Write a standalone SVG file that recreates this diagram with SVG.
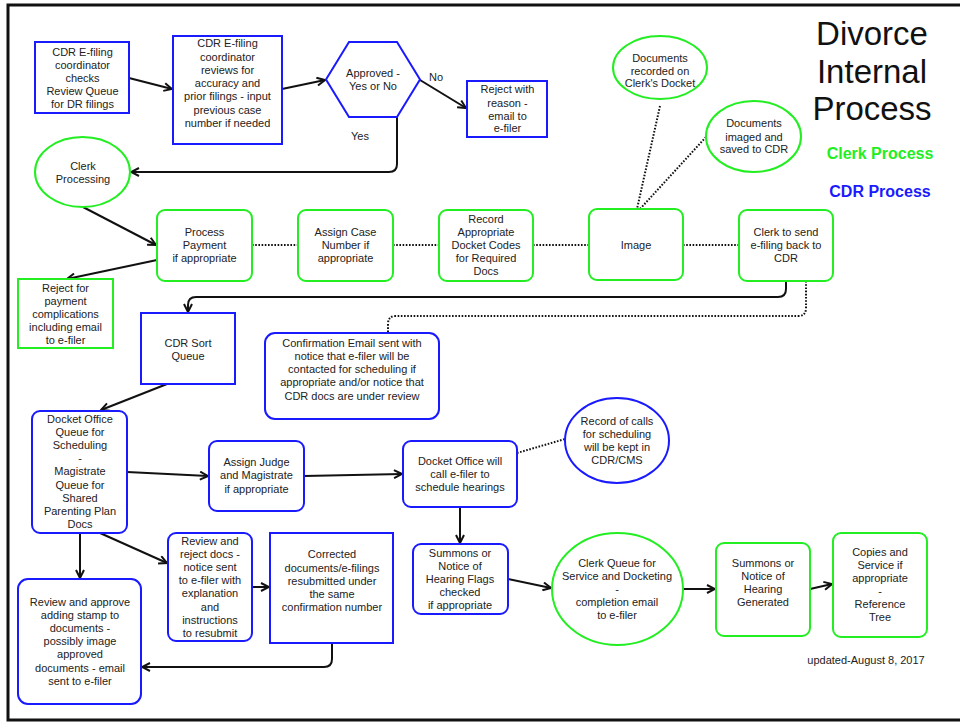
<svg xmlns="http://www.w3.org/2000/svg" width="960" height="723" viewBox="0 0 960 723">
  <style>
    .t { font-family: "Liberation Sans", Arial, sans-serif; font-size: 11px; fill: #222; text-anchor: middle; }
    .cdr { fill: #fff; stroke: #1a1aff; stroke-width: 2; }
    .clerk { fill: #fff; stroke: #22ee22; stroke-width: 2; }
    .edge { fill: none; stroke: #111; stroke-width: 2; }
    .dot { fill: none; stroke: #111; stroke-width: 2; stroke-dasharray: 1.6 1.6; }
    .title { font-family: "Liberation Sans", Arial, sans-serif; font-size: 33px; fill: #111; text-anchor: middle; }
    .legend { font-family: "Liberation Sans", Arial, sans-serif; font-size: 16px; font-weight: bold; text-anchor: middle; }
  </style>
  <defs>
    <marker id="arrow" viewBox="0 0 10 10" refX="9" refY="5" markerWidth="10" markerHeight="10" orient="auto" markerUnits="userSpaceOnUse">
      <path d="M1,1 L9,5 L1,9" fill="none" stroke="#111" stroke-width="2"/>
    </marker>
  </defs>

  <rect x="0" y="0" width="960" height="723" fill="#fff"/>
  <!-- page frame -->
  <rect x="8" y="5" width="960" height="715" fill="none" stroke="#111" stroke-width="3"/>

  <!-- title and legend -->
  <g id="title">
    <text class="title" x="872" y="45">Divorce</text>
    <text class="title" x="872" y="83">Internal</text>
    <text class="title" x="872" y="120">Process</text>
    <text class="legend" x="880" y="159" fill="#22ee22">Clerk Process</text>
    <text class="legend" x="880" y="197" fill="#1a1aff">CDR Process</text>
    <text class="t" x="866" y="664" style="font-size:11px">updated-August 8, 2017</text>
  </g>

  <!-- connectors -->
  <g id="connectors">
    <line class="edge" x1="129" y1="78" x2="172" y2="89" marker-end="url(#arrow)"/>
    <line class="edge" x1="282" y1="89" x2="325" y2="80" marker-end="url(#arrow)"/>
    <line class="edge" x1="420" y1="80" x2="466" y2="108" marker-end="url(#arrow)"/>
    <path class="edge" d="M397,117 L397,164 Q397,172 389,172 L131,172" marker-end="url(#arrow)"/>
    <line class="edge" x1="83" y1="207" x2="156" y2="245" marker-end="url(#arrow)"/>
    <line class="edge" x1="157" y1="260" x2="67" y2="279" marker-end="url(#arrow)"/>
    <line class="dot" x1="252" y1="245" x2="298" y2="245"/>
    <line class="dot" x1="393" y1="245" x2="439" y2="245"/>
    <line class="dot" x1="533" y1="245" x2="589" y2="245"/>
    <line class="dot" x1="683" y1="245" x2="739" y2="245"/>
    <line class="dot" x1="660" y1="106" x2="637" y2="209"/>
    <line class="dot" x1="706" y1="137" x2="640" y2="209"/>
    <path class="edge" d="M786,281 L786,289 Q786,297 778,297 L196,297 Q188,297 188,305 L188,312" marker-end="url(#arrow)"/>
    <path class="dot" d="M806,281 L806,308 Q806,316 798,316 L396,316 Q388,316 388,324 L388,332"/>
    <line class="edge" x1="167" y1="384" x2="101" y2="410" marker-end="url(#arrow)"/>
    <line class="edge" x1="127" y1="472" x2="208" y2="476" marker-end="url(#arrow)"/>
    <line class="edge" x1="304" y1="476" x2="402" y2="474" marker-end="url(#arrow)"/>
    <line class="dot" x1="517" y1="453" x2="565" y2="439"/>
    <line class="edge" x1="460" y1="507" x2="460" y2="543" marker-end="url(#arrow)"/>
    <line class="edge" x1="508" y1="579" x2="551" y2="588" marker-end="url(#arrow)"/>
    <line class="edge" x1="683" y1="589" x2="715" y2="589" marker-end="url(#arrow)"/>
    <line class="edge" x1="810" y1="589" x2="832" y2="584" marker-end="url(#arrow)"/>
    <line class="edge" x1="100" y1="533" x2="167" y2="563" marker-end="url(#arrow)"/>
    <line class="edge" x1="80" y1="533" x2="80" y2="578" marker-end="url(#arrow)"/>
    <line class="edge" x1="252" y1="587" x2="269" y2="587" marker-end="url(#arrow)"/>
    <path class="edge" d="M332,643 L332,659 Q332,667 324,667 L142,667" marker-end="url(#arrow)"/>
  </g>

  <g id="coordinator-checks">
    <rect class="cdr" x="35" y="42" width="94" height="71"/>
    <text class="t" x="82.5"><tspan x="82.5" y="56">CDR E-filing</tspan><tspan x="82.5" y="68.5">coordinator</tspan><tspan x="82.5" y="82">checks</tspan><tspan x="82.5" y="95">Review Queue</tspan><tspan x="82.5" y="108">for DR filings</tspan></text>
  </g>

  <g id="coordinator-reviews">
    <rect class="cdr" x="173" y="36" width="109" height="108"/>
    <text class="t"><tspan x="227.5" y="47">CDR E-filing</tspan><tspan x="227.5" y="60.5">coordinator</tspan><tspan x="227.5" y="74">reviews for</tspan><tspan x="227.5" y="87">accuracy and</tspan><tspan x="227.5" y="100">prior filings - input</tspan><tspan x="227.5" y="114">previous case</tspan><tspan x="227.5" y="127">number if needed</tspan></text>
  </g>

  <g id="approved-decision">
    <polygon class="cdr" points="326,79.5 349,42 397,42 420,79.5 397,117 349,117"/>
    <text class="t"><tspan x="373" y="77">Approved -</tspan><tspan x="373" y="90">Yes or No</tspan></text>
    <text class="t" x="436" y="81">No</text>
    <text class="t" x="360" y="140">Yes</text>
  </g>

  <g id="reject-reason">
    <rect class="cdr" x="467" y="81" width="80" height="56"/>
    <text class="t"><tspan x="507.5" y="93">Reject with</tspan><tspan x="507.5" y="107">reason -</tspan><tspan x="507.5" y="120">email to</tspan><tspan x="507.5" y="132">e-filer</tspan></text>
  </g>

  <g id="docs-recorded">
    <ellipse class="clerk" cx="660" cy="67.5" rx="47" ry="31.5"/>
    <text class="t"><tspan x="660" y="62">Documents</tspan><tspan x="660" y="75">recorded on</tspan><tspan x="660" y="87">Clerk's Docket</tspan></text>
  </g>

  <g id="docs-imaged">
    <ellipse class="clerk" cx="753.5" cy="136.5" rx="47.5" ry="35.5"/>
    <text class="t"><tspan x="754" y="127">Documents</tspan><tspan x="754" y="141">imaged and</tspan><tspan x="754" y="153">saved to CDR</tspan></text>
  </g>

  <g id="clerk-processing">
    <ellipse class="clerk" cx="82.5" cy="172" rx="47.5" ry="35"/>
    <text class="t"><tspan x="83" y="170">Clerk</tspan><tspan x="83" y="183">Processing</tspan></text>
  </g>

  <g id="process-payment">
    <rect class="clerk" x="157" y="210" width="95" height="71" rx="8"/>
    <text class="t"><tspan x="204.5" y="236">Process</tspan><tspan x="204.5" y="249">Payment</tspan><tspan x="204.5" y="262">if appropriate</tspan></text>
  </g>

  <g id="assign-case">
    <rect class="clerk" x="298" y="210" width="95" height="71" rx="8"/>
    <text class="t"><tspan x="345.5" y="236">Assign Case</tspan><tspan x="345.5" y="249">Number if</tspan><tspan x="345.5" y="262">appropriate</tspan></text>
  </g>

  <g id="docket-codes">
    <rect class="clerk" x="439" y="210" width="94" height="71" rx="8"/>
    <text class="t"><tspan x="486" y="223">Record</tspan><tspan x="486" y="236">Appropriate</tspan><tspan x="486" y="249">Docket Codes</tspan><tspan x="486" y="262">for Required</tspan><tspan x="486" y="275">Docs</tspan></text>
  </g>

  <g id="image">
    <rect class="clerk" x="589" y="209" width="94" height="71" rx="8"/>
    <text class="t" x="636" y="249">Image</text>
  </g>

  <g id="send-back">
    <rect class="clerk" x="739" y="210" width="94" height="71" rx="8"/>
    <text class="t"><tspan x="786" y="236">Clerk to send</tspan><tspan x="786" y="249">e-filing back to</tspan><tspan x="786" y="262">CDR</tspan></text>
  </g>

  <g id="reject-payment">
    <rect class="clerk" x="18" y="279" width="95" height="69"/>
    <text class="t"><tspan x="65.5" y="292">Reject for</tspan><tspan x="65.5" y="305">payment</tspan><tspan x="65.5" y="318">complications</tspan><tspan x="65.5" y="331">including email</tspan><tspan x="65.5" y="344">to e-filer</tspan></text>
  </g>

  <g id="sort-queue">
    <rect class="cdr" x="141" y="313" width="94" height="71"/>
    <text class="t"><tspan x="188" y="347">CDR Sort</tspan><tspan x="188" y="360">Queue</tspan></text>
  </g>

  <g id="confirmation-email">
    <rect class="cdr" x="265" y="333" width="174" height="86" rx="10"/>
    <text class="t"><tspan x="352" y="347">Confirmation Email sent with</tspan><tspan x="352" y="360">notice that e-filer will be</tspan><tspan x="352" y="373">contacted for scheduling if</tspan><tspan x="352" y="386">appropriate and/or notice that</tspan><tspan x="352" y="400">CDR docs are under review</tspan></text>
  </g>

  <g id="docket-queue">
    <rect class="cdr" x="32" y="411" width="95" height="122" rx="8"/>
    <text class="t"><tspan x="80" y="423">Docket Office</tspan><tspan x="80" y="436">Queue for</tspan><tspan x="80" y="449">Scheduling</tspan><tspan x="80" y="462">-</tspan><tspan x="80" y="475">Magistrate</tspan><tspan x="80" y="489">Queue for</tspan><tspan x="80" y="502">Shared</tspan><tspan x="80" y="515">Parenting Plan</tspan><tspan x="80" y="528">Docs</tspan></text>
  </g>

  <g id="assign-judge">
    <rect class="cdr" x="209" y="441" width="95" height="70" rx="8"/>
    <text class="t"><tspan x="256.5" y="466">Assign Judge</tspan><tspan x="256.5" y="479">and Magistrate</tspan><tspan x="256.5" y="493">if appropriate</tspan></text>
  </g>

  <g id="call-efiler">
    <rect class="cdr" x="403" y="441" width="114" height="66" rx="8"/>
    <text class="t"><tspan x="460" y="465">Docket Office will</tspan><tspan x="460" y="478">call e-filer to</tspan><tspan x="460" y="491">schedule hearings</tspan></text>
  </g>

  <g id="record-calls">
    <ellipse class="cdr" cx="617" cy="440.5" rx="52" ry="42.5"/>
    <text class="t"><tspan x="617" y="425">Record of calls</tspan><tspan x="617" y="438">for scheduling</tspan><tspan x="617" y="451">will be kept in</tspan><tspan x="617" y="464">CDR/CMS</tspan></text>
  </g>

  <g id="hearing-flags">
    <rect class="cdr" x="413" y="544" width="95" height="70" rx="8"/>
    <text class="t"><tspan x="460" y="557">Summons or</tspan><tspan x="460" y="570">Notice of</tspan><tspan x="460" y="583">Hearing Flags</tspan><tspan x="460" y="596">checked</tspan><tspan x="460" y="609">if appropriate</tspan></text>
  </g>

  <g id="clerk-queue">
    <ellipse class="clerk" cx="617.5" cy="589" rx="65.5" ry="56"/>
    <text class="t"><tspan x="617" y="567">Clerk Queue for</tspan><tspan x="617" y="580">Service and Docketing</tspan><tspan x="617" y="593">-</tspan><tspan x="617" y="606">completion email</tspan><tspan x="617" y="619">to e-filer</tspan></text>
  </g>

  <g id="hearing-generated">
    <rect class="clerk" x="716" y="543" width="94" height="93" rx="8"/>
    <text class="t"><tspan x="763" y="567">Summons or</tspan><tspan x="763" y="580">Notice of</tspan><tspan x="763" y="593">Hearing</tspan><tspan x="763" y="606">Generated</tspan></text>
  </g>

  <g id="copies-service">
    <rect class="clerk" x="833" y="533" width="94" height="104" rx="8"/>
    <text class="t"><tspan x="880" y="556">Copies and</tspan><tspan x="880" y="569">Service if</tspan><tspan x="880" y="582">appropriate</tspan><tspan x="880" y="595">-</tspan><tspan x="880" y="608">Reference</tspan><tspan x="880" y="621">Tree</tspan></text>
  </g>

  <g id="review-reject">
    <rect class="cdr" x="168" y="533" width="84" height="108" rx="8"/>
    <text class="t"><tspan x="210" y="545">Review and</tspan><tspan x="210" y="558">reject docs -</tspan><tspan x="210" y="571">notice sent</tspan><tspan x="210" y="584">to e-filer with</tspan><tspan x="210" y="597">explanation</tspan><tspan x="210" y="611">and</tspan><tspan x="210" y="624">instructions</tspan><tspan x="210" y="637">to resubmit</tspan></text>
  </g>

  <g id="corrected-docs">
    <rect class="cdr" x="270" y="533" width="123" height="110"/>
    <text class="t"><tspan x="332" y="558">Corrected</tspan><tspan x="332" y="572">documents/e-filings</tspan><tspan x="332" y="585">resubmitted under</tspan><tspan x="332" y="598">the same</tspan><tspan x="332" y="611">confirmation number</tspan></text>
  </g>

  <g id="review-approve">
    <rect class="cdr" x="18" y="579" width="123" height="125" rx="10"/>
    <text class="t"><tspan x="80" y="606">Review and approve</tspan><tspan x="80" y="619">adding stamp to</tspan><tspan x="80" y="632">documents -</tspan><tspan x="80" y="645">possibly image</tspan><tspan x="80" y="658">approved</tspan><tspan x="80" y="672">documents - email</tspan><tspan x="80" y="685">sent to e-filer</tspan></text>
  </g>
</svg>
